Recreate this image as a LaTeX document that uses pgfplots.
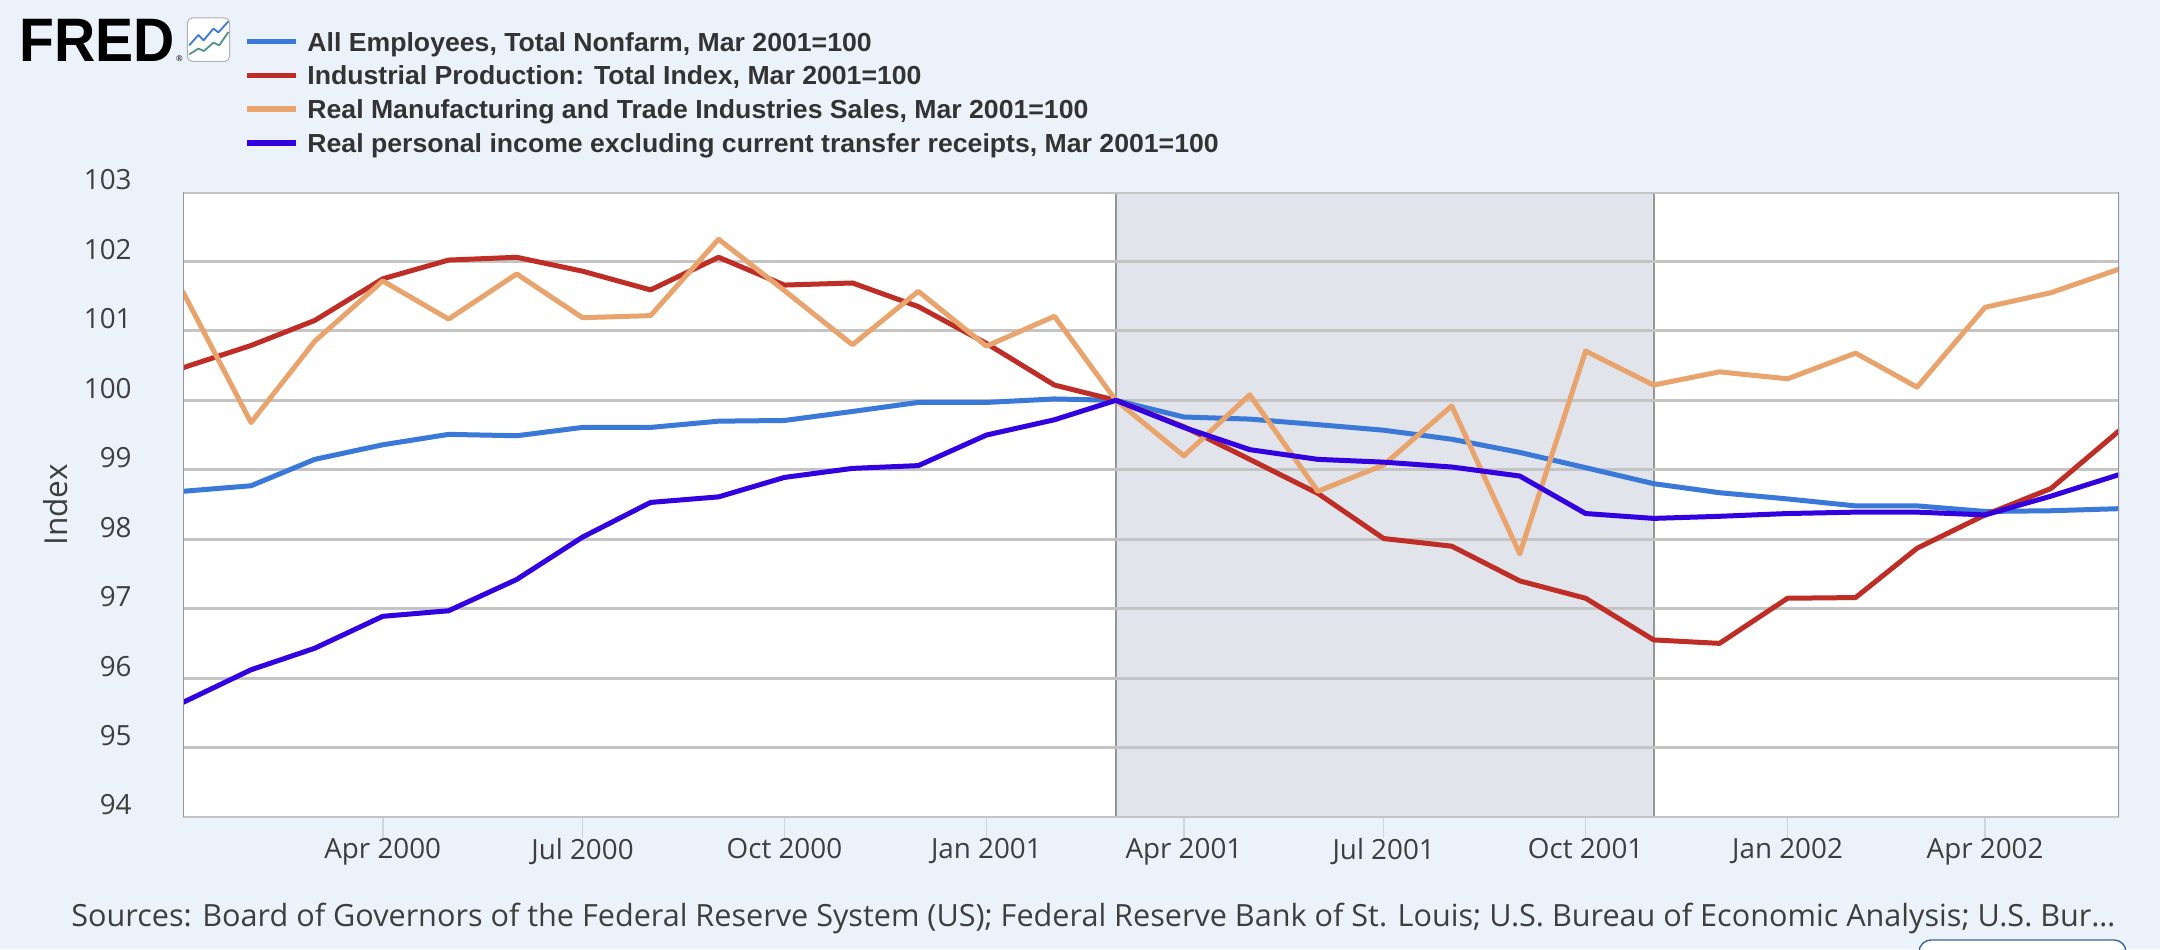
\documentclass[border=0pt]{standalone}
\usepackage{fontspec}
\usepackage{pgfplots}
\pgfplotsset{compat=1.18}
\usepackage{pgfplotstable}
\setmainfont{Open Sans}
\newfontfamily\legfont[FakeStretch=1.02]{Liberation Sans}
\newfontfamily\logofont[FakeStretch=0.93]{Liberation Sans}

\definecolor{bg}{RGB}{236,242,250}
\definecolor{gridc}{RGB}{196,196,196}
\definecolor{tickc}{RGB}{205,212,224}
\definecolor{bordc}{RGB}{150,150,156}
\definecolor{recc}{RGB}{225,228,234}
\definecolor{reclc}{RGB}{150,150,150}
\definecolor{labc}{RGB}{62,62,62}
\definecolor{legc}{RGB}{51,51,51}
\definecolor{cemp}{RGB}{58,121,216}
\definecolor{cip}{RGB}{190,46,38}
\definecolor{csales}{RGB}{232,164,108}
\definecolor{cinc}{RGB}{51,0,224}
\definecolor{icongreen}{RGB}{80,150,130}
\definecolor{btnc}{RGB}{60,100,160}

\pgfplotstableread{
day emp ip sales inc
0   98.69 100.47 101.56 95.65
31  98.77 100.79 99.68  96.12
60  99.15 101.15 100.85 96.43
91  99.36 101.75 101.72 96.89
121 99.51 102.02 101.17 96.97
152 99.49 102.06 101.82 97.42
182 99.61 101.86 101.19 98.03
213 99.61 101.59 101.22 98.53
244 99.70 102.06 102.32 98.61
274 99.71 101.66 101.58 98.89
305 99.84 101.69 100.80 99.02
335 99.97 101.35 101.57 99.06
366 99.97 100.82 100.78 99.50
397 100.02 100.22 101.21 99.72
425 100.00 100.00 100.00 100.00
456 99.76 99.62 99.20 99.61
486 99.73 99.15 100.08 99.29
517 99.65 98.66 98.69 99.15
547 99.57 98.01 99.07 99.11
578 99.44 97.90 99.92 99.04
609 99.25 97.40 97.79 98.91
639 99.03 97.15 100.71 98.37
670 98.80 96.55 100.22 98.30
700 98.67 96.50 100.41 98.33
731 98.58 97.15 100.31 98.37
762 98.48 97.16 100.68 98.39
790 98.48 97.87 100.19 98.39
821 98.40 98.35 101.34 98.35
851 98.41 98.73 101.55 98.62
882 98.44 99.56 101.89 98.93
}\data

\begin{document}
\begin{tikzpicture}[x=1pt,y=1pt]
\fill[bg] (0,0) rectangle (1080,474.5);
\useasboundingbox (0,0) rectangle (1080,474.5);

% logo
\node[anchor=base west, inner sep=0pt, text=black] at (9.5,443.6)
  {\logofont\bfseries\fontsize{30.7}{32}\selectfont FRED\kern0.6pt{\normalfont\fontsize{4}{5}\selectfont ®}};
\draw[draw=gray!60, fill=white, rounded corners=2.5pt, line width=0.5pt] (93.7,443.8) rectangle (114.8,465.5);
\draw[cemp, line width=0.9pt, line join=round] (94.6,451.8) -- (99.2,457) -- (101.8,454.3) -- (106.7,460.2) -- (109.2,458.3) -- (114.2,463.8);
\draw[icongreen, line width=0.9pt, line join=round] (94.6,447.3) -- (99.2,450.2) -- (102,449) -- (106.7,453.2) -- (109.6,451.8) -- (114.2,458.5);

% legend
\foreach \yy/\cc/\tt in {453.6/cemp/{All Employees, Total Nonfarm, Mar 2001=100},
                         436.8/cip/{Industrial Production: Total Index, Mar 2001=100},
                         420.0/csales/{Real Manufacturing and Trade Industries Sales, Mar 2001=100},
                         403.0/cinc/{Real personal income excluding current transfer receipts, Mar 2001=100}}{
  \draw[\cc, line width=2.6pt] (123.5,\yy) -- (148,\yy);
  \node[anchor=base west, inner sep=0pt, text=legc] at (153.5,\yy-4.7)
    {\legfont\bfseries\fontsize{13.06}{15}\selectfont \tt};
}

\begin{axis}[
  at={(91.5pt,66pt)}, anchor=south west,
  scale only axis, width=968pt, height=312.5pt,
  xmin=0, xmax=882, ymin=94, ymax=103,
  axis background/.style={fill=white},
  axis line style={draw=none},
  ytick={94,95,...,103},
  ytick style={draw=none},
  xtick={91,182,274,366,456,547,639,731,821},
  xticklabels={Apr 2000,Jul 2000,Oct 2000,Jan 2001,Apr 2001,Jul 2001,Oct 2001,Jan 2002,Apr 2002},
  xtick pos=bottom, tick align=outside,
  major tick length=10.5pt,
  xtick style={draw=tickc, line width=0.8pt},
  /pgf/number format/assume math mode=true,
  ticklabel style={font=\fontsize{13.9}{16}\selectfont, text=labc},
  yticklabel style={anchor=east, inner sep=0pt, xshift=-15pt, yshift=6pt},
  xticklabel style={anchor=north, inner sep=0pt},
  every axis plot/.append style={line width=2.5pt, line join=round, line cap=round},
]
\fill[recc] (axis cs:425,94) rectangle (axis cs:670,103);
\draw[reclc, line width=1pt] (axis cs:425,94) -- (axis cs:425,103);
\draw[reclc, line width=1pt] (axis cs:670,94) -- (axis cs:670,103);
\pgfplotsinvokeforeach{94,95,...,103}{
  \draw[gridc, line width=1.5pt] (axis cs:0,#1) -- (axis cs:882,#1);
}
\addplot[cemp] table[x=day, y=emp] {\data};
\addplot[cip] table[x=day, y=ip] {\data};
\addplot[csales] table[x=day, y=sales] {\data};
\addplot[cinc] table[x=day, y=inc] {\data};
\draw[bordc, line width=1pt] (rel axis cs:0,0) -- (rel axis cs:0,1);
\draw[bordc, line width=1pt] (rel axis cs:1,0) -- (rel axis cs:1,1);
\end{axis}

\node[anchor=base, rotate=90, inner sep=0pt, text=labc] at (33.5,222)
  {\fontsize{15.8}{18}\selectfont Index};

\node[anchor=base west, inner sep=0pt, text=labc] at (35.5,11.2)
  {\fontsize{15.3}{17}\selectfont Sources: Board of Governors of the Federal Reserve System (US); Federal Reserve Bank of St. Louis; U.S. Bureau of Economic Analysis; U.S. Bur…};

\draw[btnc, line width=0.7pt, fill=white, rounded corners=6pt] (959.5,4.5) rectangle (1063,-20);
\end{tikzpicture}
\end{document}
